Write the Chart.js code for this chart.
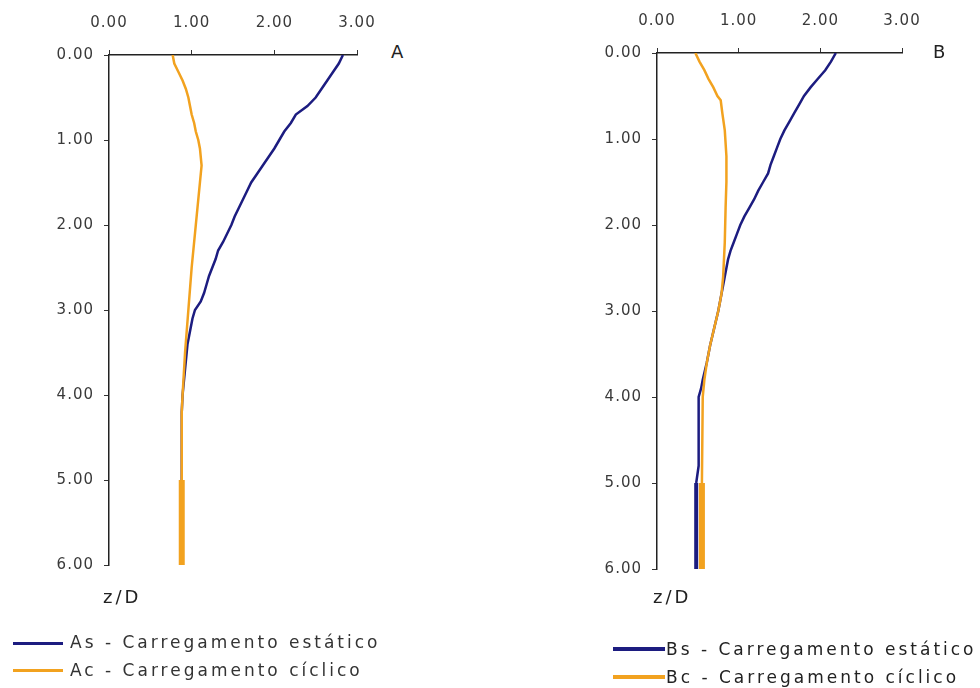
<!DOCTYPE html>
<html>
<head>
<meta charset="utf-8">
<script src="https://cdn.jsdelivr.net/npm/chart.js@4/dist/chart.umd.min.js"></script>
<style>
  html, body { margin: 0; padding: 0; background: #fff; }
  body { width: 980px; height: 688px; position: relative; overflow: hidden; font-family: "DejaVu Sans", sans-serif; }
  canvas { position: absolute; }
  .lbl { position: absolute; color: #222; white-space: nowrap; line-height: 20px; }
  .key { position: absolute; height: 20px; line-height: 20px; font-size: 17px; letter-spacing: 3px; color: #333; white-space: nowrap; }
  .swatch { position: absolute; }
</style>
</head>
<body>
<canvas id="chartA" width="350" height="590" style="left:40px;top:0px"></canvas>
<canvas id="chartB" width="350" height="595" style="left:586px;top:0px"></canvas>

<div class="lbl" style="left:391px;top:42px;font-size:18px;">A</div>
<div class="lbl" style="left:933px;top:42px;font-size:18px;">B</div>
<div class="lbl" style="left:103px;top:587px;font-size:18px;letter-spacing:3px;">z/D</div>
<div class="lbl" style="left:653px;top:587px;font-size:18px;letter-spacing:3px;">z/D</div>

<div class="swatch" style="left:13px;top:642px;width:50px;height:2.5px;background:#1c1c80"></div>
<div class="key" style="left:70px;top:632px;">As - Carregamento estático</div>
<div class="swatch" style="left:13px;top:669px;width:50px;height:3px;background:#f2a21f"></div>
<div class="key" style="left:70px;top:660px;">Ac - Carregamento cíclico</div>

<div class="swatch" style="left:613px;top:647px;width:52px;height:4px;background:#1c1c80"></div>
<div class="key" style="left:666px;top:639px;color:#222;">Bs - Carregamento estático</div>
<div class="swatch" style="left:613px;top:675px;width:52px;height:4px;background:#f2a21f"></div>
<div class="key" style="left:666px;top:667px;color:#222;">Bc - Carregamento cíclico</div>

<script>
// Depth ratio z/D and the plotted value for each curve
const zAs = [0, 0.1, 0.2, 0.3, 0.4, 0.5, 0.6, 0.7, 0.8, 0.9, 1.0, 1.1, 1.2, 1.3, 1.4, 1.5, 1.6, 1.7, 1.8, 1.9, 2.0, 2.1, 2.2, 2.3, 2.4, 2.5, 2.6, 2.7, 2.8, 2.9, 3.0, 3.1, 3.2, 3.3, 3.4, 3.5, 3.6, 4.0, 4.2, 5.0, 6.0];
const As  = [2.83, 2.78, 2.71, 2.64, 2.57, 2.50, 2.40, 2.26, 2.20, 2.12, 2.06, 2.00, 1.93, 1.86, 1.79, 1.72, 1.67, 1.62, 1.57, 1.52, 1.48, 1.43, 1.38, 1.32, 1.29, 1.25, 1.21, 1.18, 1.15, 1.11, 1.04, 1.01, 0.99, 0.97, 0.95, 0.94, 0.93, 0.89, 0.88, 0.88, 0.88];

const zAc = [0, 0.1, 0.2, 0.3, 0.4, 0.5, 0.6, 0.7, 0.8, 0.9, 1.0, 1.1, 1.3, 1.4, 1.6, 2.0, 2.5, 3.0, 3.5, 4.0, 4.2, 5.0, 6.0];
const Ac  = [0.77, 0.79, 0.84, 0.89, 0.93, 0.96, 0.98, 1.00, 1.03, 1.05, 1.08, 1.10, 1.12, 1.11, 1.09, 1.05, 1.00, 0.96, 0.92, 0.89, 0.88, 0.88, 0.88];

const zBs = [0, 0.1, 0.2, 0.3, 0.4, 0.5, 0.6, 0.7, 0.8, 0.9, 1.0, 1.1, 1.2, 1.3, 1.4, 1.5, 1.6, 1.7, 1.8, 1.9, 2.0, 2.1, 2.2, 2.3, 2.4, 2.5, 2.6, 2.7, 2.8, 3.0, 3.2, 3.4, 3.6, 3.8, 3.9, 4.0, 4.5, 4.8, 5.0, 6.0];
const Bs  = [2.19, 2.13, 2.06, 1.97, 1.88, 1.80, 1.74, 1.68, 1.62, 1.56, 1.51, 1.47, 1.43, 1.39, 1.36, 1.30, 1.24, 1.19, 1.13, 1.07, 1.02, 0.98, 0.94, 0.90, 0.87, 0.85, 0.83, 0.81, 0.79, 0.75, 0.70, 0.65, 0.61, 0.56, 0.54, 0.51, 0.51, 0.51, 0.48, 0.48];

const zBc = [0, 0.1, 0.2, 0.3, 0.4, 0.5, 0.55, 0.7, 0.9, 1.2, 1.5, 1.8, 2.2, 2.6, 2.8, 3.0, 3.2, 3.4, 3.6, 3.8, 4.0, 5.0, 6.0];
const Bc  = [0.47, 0.52, 0.58, 0.63, 0.69, 0.74, 0.78, 0.80, 0.83, 0.85, 0.85, 0.84, 0.83, 0.81, 0.79, 0.75, 0.70, 0.65, 0.61, 0.58, 0.56, 0.55, 0.55];

// Axis ticks
const valueTicks = [0, 1, 2, 3];
const depthTicks = [0, 1, 2, 3, 4, 5, 6];

const NAVY = '#1c1c80';
const ORANGE = '#f2a21f';

function points(zs, vs) {
  return zs.map((z, i) => ({ x: vs[i], y: z }));
}

// Canvas text spacing (reset whenever the canvas is resized)
const spacingPlugin = {
  id: 'textSpacing',
  beforeUpdate(chart) { chart.ctx.letterSpacing = '1px'; },
  beforeDraw(chart) { chart.ctx.letterSpacing = '1px'; }
};

function makeChart(id, staticPts, cyclicPts, staticWide, cyclicWide, yWidth, xHeight, pad) {
  const tickFont = { family: 'DejaVu Sans', size: 15 };
  return new Chart(document.getElementById(id), {
    type: 'scatter',
    data: {
      datasets: [
        {
          data: cyclicPts,
          showLine: true,
          borderColor: ORANGE,
          borderWidth: 2.5,
          pointRadius: 0,
          tension: 0,
          order: 0,
          segment: { borderWidth: c => (c.p0.parsed.y >= 5 ? cyclicWide : 2.5) }
        },
        {
          data: staticPts,
          showLine: true,
          borderColor: NAVY,
          borderWidth: 2.5,
          pointRadius: 0,
          tension: 0,
          order: 1,
          segment: { borderWidth: c => (c.p0.parsed.y >= 5 ? staticWide : 2.5) }
        }
      ]
    },
    options: {
      responsive: false,
      animation: false,
      devicePixelRatio: 1,
      layout: { padding: pad },
      plugins: { legend: { display: false }, tooltip: { enabled: false } },
      scales: {
        x: {
          type: 'linear',
          position: 'top',
          min: valueTicks[0],
          max: valueTicks[valueTicks.length - 1],
          afterBuildTicks: s => { s.ticks = valueTicks.map(v => ({ value: v })); },
          afterFit: s => { s.height = xHeight; s.paddingLeft = 0; s.paddingRight = 0; },
          grid: { drawOnChartArea: false, drawTicks: true, tickLength: 5, color: '#333', lineWidth: 1 },
          border: { display: true, color: '#222', width: 1.5 },
          ticks: { padding: 18, color: '#3a3a3a', font: tickFont, maxRotation: 0, callback: v => v.toFixed(2) }
        },
        y: {
          type: 'linear',
          position: 'left',
          reverse: true,
          min: depthTicks[0],
          max: depthTicks[depthTicks.length - 1],
          afterBuildTicks: s => { s.ticks = depthTicks.map(v => ({ value: v })); },
          afterFit: s => { s.width = yWidth; s.paddingTop = 0; s.paddingBottom = 0; },
          grid: { drawOnChartArea: false, drawTicks: true, tickLength: 5, color: '#333', lineWidth: 1 },
          border: { display: true, color: '#222', width: 1.5 },
          ticks: { padding: 10, color: '#3a3a3a', font: tickFont, callback: v => v.toFixed(2) }
        }
      }
    },
    plugins: [spacingPlugin]
  });
}

makeChart('chartA', points(zAs, As), points(zAc, Ac), 2.5, 6, 69, 55,
  { left: 0, top: 0, right: 33, bottom: 25 });
makeChart('chartB', points(zBs, Bs), points(zBc, Bc), 4, 6, 71, 53,
  { left: 0, top: 0, right: 34, bottom: 26 });
</script>
</body>
</html>
